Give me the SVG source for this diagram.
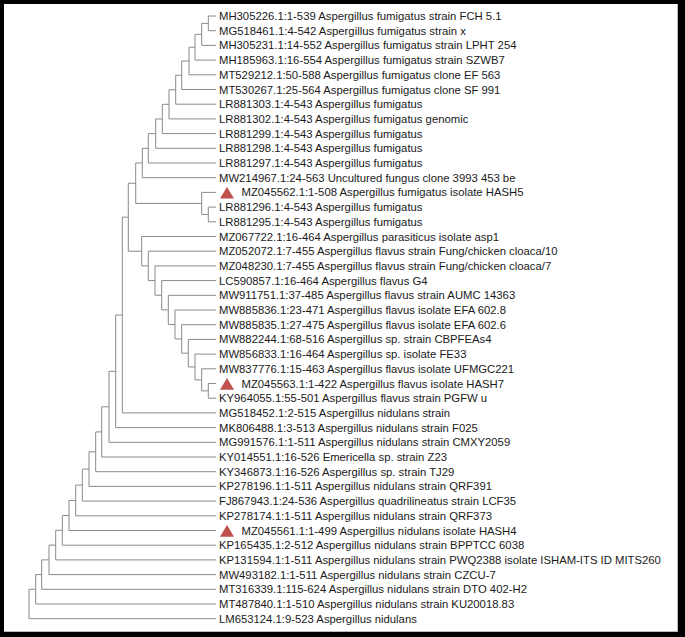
<svg xmlns="http://www.w3.org/2000/svg" width="685" height="637" viewBox="0 0 685 637">
<style>
.l{font-family:"Liberation Sans",Arial,sans-serif;font-size:11.3px;fill:#1a1a1a}
.e{fill:none;stroke:#8a8a8a;stroke-width:1}
.t{fill:#c0504d}
</style>
<rect x="0" y="0" width="685" height="637" fill="#000"/>
<rect x="4" y="4" width="674" height="628" fill="#fff"/>
<line x1="4" y1="631.5" x2="678" y2="631.5" stroke="#bbb" stroke-width="1"/>
<line x1="677.5" y1="4" x2="677.5" y2="632" stroke="#bbb" stroke-width="1"/>
<g id="connectors">
<path class="e" d="M216 16H208.3V30.7H216"/>
<path class="e" d="M208.3 23.35H201.7V45.4H216"/>
<path class="e" d="M201.7 34.38H195V60.1H216"/>
<path class="e" d="M195 47.24H189V74.8H216"/>
<path class="e" d="M189 61.02H181.7V89.5H216"/>
<path class="e" d="M181.7 75.26H175.7V104.2H216"/>
<path class="e" d="M175.7 89.73H169V118.9H216"/>
<path class="e" d="M169 104.31H162.3V133.6H216"/>
<path class="e" d="M162.3 118.96H155.7V148.3H216"/>
<path class="e" d="M155.7 133.63H148.3V163H216"/>
<path class="e" d="M148.3 148.31H142.3V177.7H216"/>
<path class="e" d="M216 207.1H208.3V221.8H216"/>
<path class="e" d="M216 192.4H201.7V214.45H208.3"/>
<path class="e" d="M142.3 163.01H135.7V203.43H201.7"/>
<path class="e" d="M216 383.5H208.3V398.2H216"/>
<path class="e" d="M216 368.8H201.7V390.85H208.3"/>
<path class="e" d="M216 354.1H195V379.83H201.7"/>
<path class="e" d="M216 339.4H188.3V366.96H195"/>
<path class="e" d="M216 324.7H181.7V353.18H188.3"/>
<path class="e" d="M216 310H175V338.94H181.7"/>
<path class="e" d="M216 295.3H168.3V324.47H175"/>
<path class="e" d="M216 280.6H161.7V309.89H168.3"/>
<path class="e" d="M216 265.9H155V295.24H161.7"/>
<path class="e" d="M216 251.2H148.3V280.57H155"/>
<path class="e" d="M216 236.5H141.7V265.89H148.3"/>
<path class="e" d="M135.7 183.22H128.3V251.19H141.7"/>
<path class="e" d="M128.3 217.21H122.3V412.9H216"/>
<path class="e" d="M122.3 315.05H115.7V427.6H216"/>
<path class="e" d="M115.7 371.33H109V442.3H216"/>
<path class="e" d="M109 406.81H101.7V457H216"/>
<path class="e" d="M101.7 431.91H95.7V471.7H216"/>
<path class="e" d="M95.7 451.8H89V486.4H216"/>
<path class="e" d="M89 469.1H82.3V501.1H216"/>
<path class="e" d="M82.3 485.1H75.7V515.8H216"/>
<path class="e" d="M75.7 500.45H69V530.5H216"/>
<path class="e" d="M69 515.48H62.3V545.2H216"/>
<path class="e" d="M62.3 530.34H55.7V559.9H216"/>
<path class="e" d="M55.7 545.12H49V574.6H216"/>
<path class="e" d="M49 559.86H41.7V589.3H216"/>
<path class="e" d="M41.7 574.58H35.7V604H216"/>
<path class="e" d="M35.7 589.29H29V618.7H216"/>
</g>
<g id="n0"><text class="l" x="219" y="20">MH305226.1:1-539 Aspergillus fumigatus strain FCH 5.1</text></g>
<g id="n1"><text class="l" x="219" y="34.7">MG518461.1:4-542 Aspergillus fumigatus strain x</text></g>
<g id="n2"><text class="l" x="219" y="49.4">MH305231.1:14-552 Aspergillus fumigatus strain LPHT 254</text></g>
<g id="n3"><text class="l" x="219" y="64.1">MH185963.1:16-554 Aspergillus fumigatus strain SZWB7</text></g>
<g id="n4"><text class="l" x="219" y="78.8">MT529212.1:50-588 Aspergillus fumigatus clone EF 563</text></g>
<g id="n5"><text class="l" x="219" y="93.5">MT530267.1:25-564 Aspergillus fumigatus clone SF 991</text></g>
<g id="n6"><text class="l" x="219" y="108.2">LR881303.1:4-543 Aspergillus fumigatus</text></g>
<g id="n7"><text class="l" x="219" y="122.9">LR881302.1:4-543 Aspergillus fumigatus genomic</text></g>
<g id="n8"><text class="l" x="219" y="137.6">LR881299.1:4-543 Aspergillus fumigatus</text></g>
<g id="n9"><text class="l" x="219" y="152.3">LR881298.1:4-543 Aspergillus fumigatus</text></g>
<g id="n10"><text class="l" x="219" y="167">LR881297.1:4-543 Aspergillus fumigatus</text></g>
<g id="n11"><text class="l" x="219" y="181.7">MW214967.1:24-563 Uncultured fungus clone 3993 453 be</text></g>
<g id="n12"><polygon class="t" points="220,198.6 227,187 234,198.6"/><text class="l" x="241.5" y="196.4">MZ045562.1:1-508 Aspergillus fumigatus isolate HASH5</text></g>
<g id="n13"><text class="l" x="219" y="211.1">LR881296.1:4-543 Aspergillus fumigatus</text></g>
<g id="n14"><text class="l" x="219" y="225.8">LR881295.1:4-543 Aspergillus fumigatus</text></g>
<g id="n15"><text class="l" x="219" y="240.5">MZ067722.1:16-464 Aspergillus parasiticus isolate asp1</text></g>
<g id="n16"><text class="l" x="219" y="255.2">MZ052072.1:7-455 Aspergillus flavus strain Fung/chicken cloaca/10</text></g>
<g id="n17"><text class="l" x="219" y="269.9">MZ048230.1:7-455 Aspergillus flavus strain Fung/chicken cloaca/7</text></g>
<g id="n18"><text class="l" x="219" y="284.6">LC590857.1:16-464 Aspergillus flavus G4</text></g>
<g id="n19"><text class="l" x="219" y="299.3">MW911751.1:37-485 Aspergillus flavus strain AUMC 14363</text></g>
<g id="n20"><text class="l" x="219" y="314">MW885836.1:23-471 Aspergillus flavus isolate EFA 602.8</text></g>
<g id="n21"><text class="l" x="219" y="328.7">MW885835.1:27-475 Aspergillus flavus isolate EFA 602.6</text></g>
<g id="n22"><text class="l" x="219" y="343.4">MW882244.1:68-516 Aspergillus sp. strain CBPFEAs4</text></g>
<g id="n23"><text class="l" x="219" y="358.1">MW856833.1:16-464 Aspergillus sp. isolate FE33</text></g>
<g id="n24"><text class="l" x="219" y="372.8">MW837776.1:15-463 Aspergillus flavus isolate UFMGC221</text></g>
<g id="n25"><polygon class="t" points="220,389.7 227,378.1 234,389.7"/><text class="l" x="241.5" y="387.5">MZ045563.1:1-422 Aspergillus flavus isolate HASH7</text></g>
<g id="n26"><text class="l" x="219" y="402.2">KY964055.1:55-501 Aspergillus flavus strain PGFW u</text></g>
<g id="n27"><text class="l" x="219" y="416.9">MG518452.1:2-515 Aspergillus nidulans strain</text></g>
<g id="n28"><text class="l" x="219" y="431.6">MK806488.1:3-513 Aspergillus nidulans strain F025</text></g>
<g id="n29"><text class="l" x="219" y="446.3">MG991576.1:1-511 Aspergillus nidulans strain CMXY2059</text></g>
<g id="n30"><text class="l" x="219" y="461">KY014551.1:16-526 Emericella sp. strain Z23</text></g>
<g id="n31"><text class="l" x="219" y="475.7">KY346873.1:16-526 Aspergillus sp. strain TJ29</text></g>
<g id="n32"><text class="l" x="219" y="490.4">KP278196.1:1-511 Aspergillus nidulans strain QRF391</text></g>
<g id="n33"><text class="l" x="219" y="505.1">FJ867943.1:24-536 Aspergillus quadrilineatus strain LCF35</text></g>
<g id="n34"><text class="l" x="219" y="519.8">KP278174.1:1-511 Aspergillus nidulans strain QRF373</text></g>
<g id="n35"><polygon class="t" points="220,536.7 227,525.1 234,536.7"/><text class="l" x="241.5" y="534.5">MZ045561.1:1-499 Aspergillus nidulans isolate HASH4</text></g>
<g id="n36"><text class="l" x="219" y="549.2">KP165435.1:2-512 Aspergillus nidulans strain BPPTCC 6038</text></g>
<g id="n37"><text class="l" x="219" y="563.9">KP131594.1:1-511 Aspergillus nidulans strain PWQ2388 isolate ISHAM-ITS ID MITS260</text></g>
<g id="n38"><text class="l" x="219" y="578.6">MW493182.1:1-511 Aspergillus nidulans strain CZCU-7</text></g>
<g id="n39"><text class="l" x="219" y="593.3">MT316339.1:115-624 Aspergillus nidulans strain DTO 402-H2</text></g>
<g id="n40"><text class="l" x="219" y="608">MT487840.1:1-510 Aspergillus nidulans strain KU20018.83</text></g>
<g id="n41"><text class="l" x="219" y="622.7">LM653124.1:9-523 Aspergillus nidulans</text></g>
</svg>
